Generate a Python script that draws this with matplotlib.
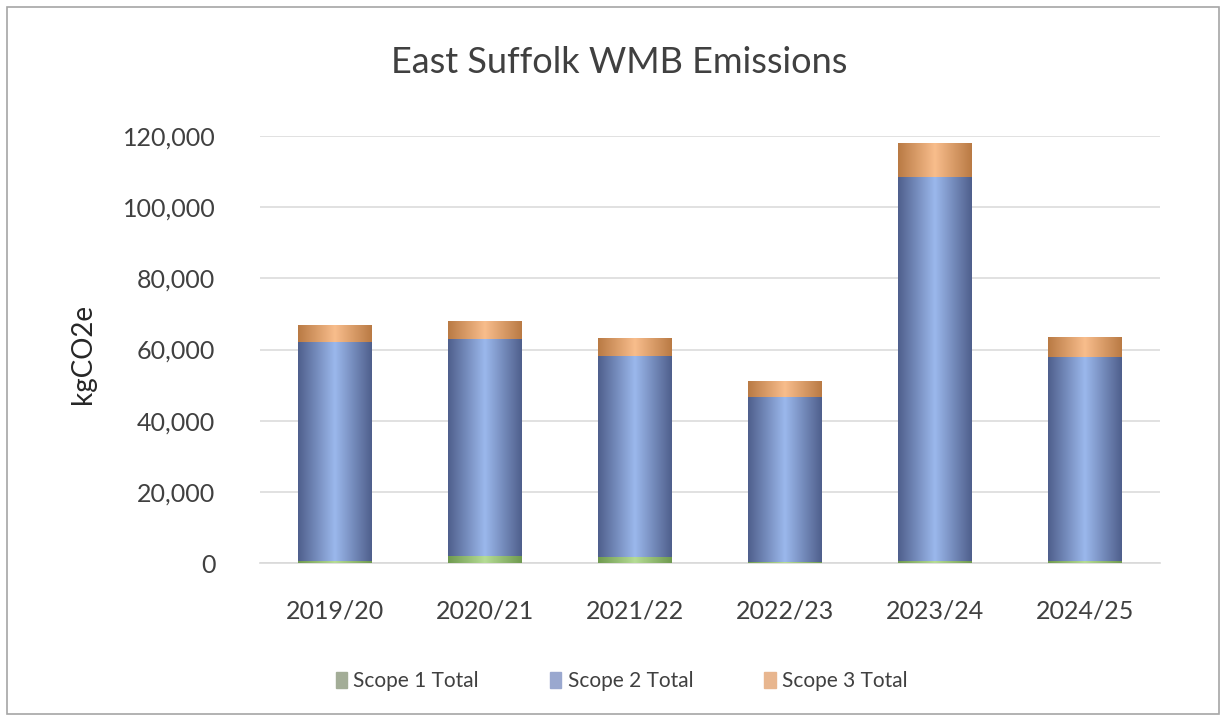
import matplotlib.pyplot as plt
import numpy as np
from matplotlib.colors import LinearSegmentedColormap
from matplotlib.patches import Rectangle
from matplotlib.ticker import FuncFormatter

years = ['2019/20', '2020/21', '2021/22', '2022/23', '2023/24', '2024/25']
scope1 = [500, 2000, 1800, 300, 500, 500]
scope2 = [61500, 61000, 56500, 46500, 108000, 57500]
scope3 = [5000, 5000, 5000, 4500, 9500, 5500]

plt.rcParams['font.family'] = ['Lato', 'DejaVu Sans']

fig = plt.figure(figsize=(12.26, 7.2), dpi=100)
ax = fig.add_axes([0.212, 0.218, 0.734, 0.593])

# outer frame like the Excel chart area
fig.patches.append(Rectangle((0.006, 0.008), 0.988, 0.982, transform=fig.transFigure,
                             fill=False, edgecolor='#a6a6a6', linewidth=1.2))

x = np.arange(len(years))
w = 0.49
series = [
    ('Scope 1 Total', scope1, ['#6f9a4f', '#b5dc95', '#6f9a4f']),
    ('Scope 2 Total', scope2, ['#4f5f8c', '#9bb8ec', '#4f5f8c']),
    ('Scope 3 Total', scope3, ['#b97a44', '#f8bd8c', '#b97a44']),
]
legend_cols = ['#a3ad97', '#9aa8cf', '#e8b68f']

# stacked bars, shaded left-to-right so they read like cylinders
bottom = np.zeros(len(years))
handles = []
for (name, vals, cols), lc in zip(series, legend_cols):
    bars = ax.bar(x, vals, w, bottom=bottom, color=cols[1], zorder=3)
    cmap = LinearSegmentedColormap.from_list(name, cols)
    grad = np.linspace(0, 1, 256).reshape(1, -1)
    for b in bars:
        x0, y0 = b.get_x(), b.get_y()
        im = ax.imshow(grad, cmap=cmap, aspect='auto', zorder=4,
                       extent=(x0, x0 + b.get_width(), y0, y0 + b.get_height()))
        im.set_clip_path(b)
    bottom += np.array(vals)
    handles.append(Rectangle((0, 0), 1, 1, color=lc, label=name))

ax.set_xlim(-0.5, len(years) - 0.5)
ax.set_ylim(0, 120000)
ax.set_yticks(np.arange(0, 120001, 20000))
ax.yaxis.set_major_formatter(FuncFormatter(lambda v, p: f'{int(v):,}'))
ax.set_xticks(x)
ax.set_xticklabels(years)
ax.tick_params(axis='both', length=0, labelsize=18, colors='#404040')
ax.tick_params(axis='x', pad=26)
ax.tick_params(axis='y', pad=32)
ax.grid(axis='y', color='#dcdcdc', linewidth=1.2, zorder=0)
for s in ['top', 'right', 'left']:
    ax.spines[s].set_visible(False)
ax.spines['bottom'].set_color('#d9d9d9')
ax.spines['bottom'].set_linewidth(1.2)

ax.set_ylabel('kgCO2e', fontsize=20, color='#262626')
ax.yaxis.set_label_coords(-0.182, 0.49)
fig.text(0.505, 0.913, 'East Suffolk WMB Emissions', ha='center', va='center',
         fontsize=26, color='#404040')

fig.legend(handles=handles, loc='center', bbox_to_anchor=(0.507, 0.054), ncol=3,
           frameon=False, fontsize=15, handlelength=0.55, handleheight=0.8,
           handletextpad=0.3, columnspacing=3.4, labelcolor='#404040')

fig.savefig('out.png', dpi=100)
